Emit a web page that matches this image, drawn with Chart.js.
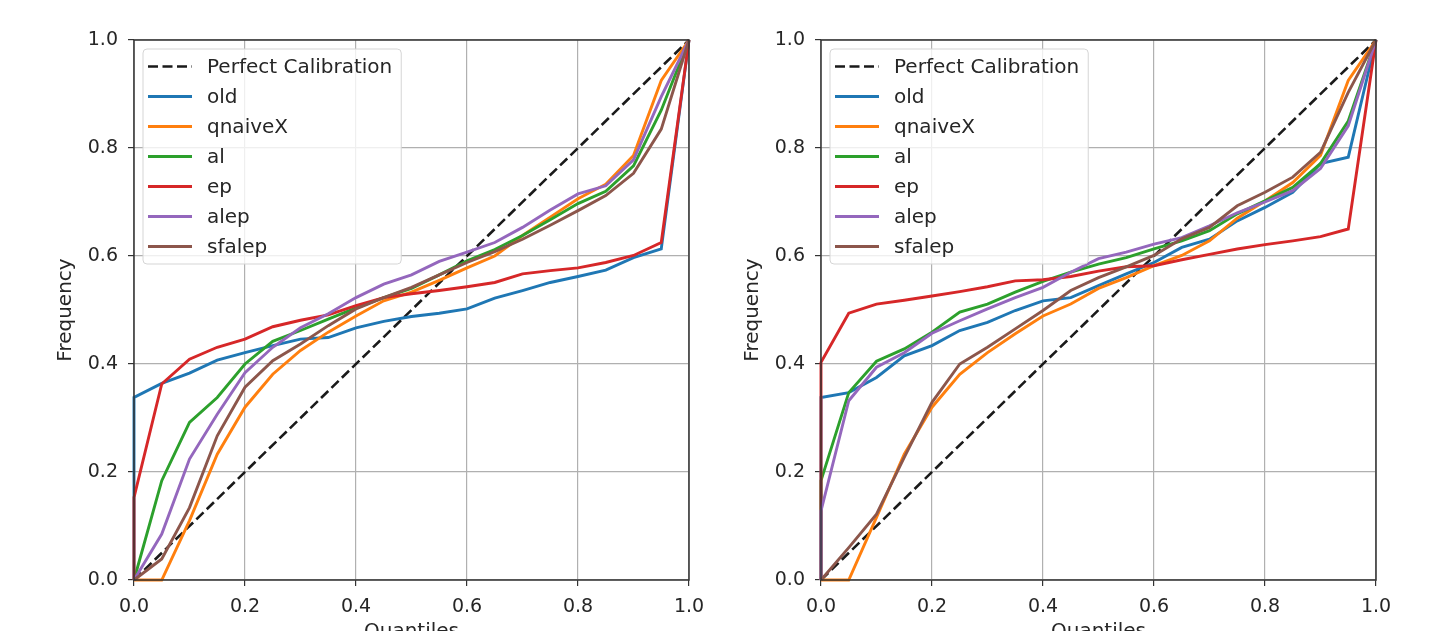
<!DOCTYPE html>
<html>
<head>
<meta charset="utf-8">
<script src="https://cdn.jsdelivr.net/npm/chart.js@4/dist/chart.umd.min.js"></script>
<style>
  body { margin: 0; background: #fff; overflow: hidden; }
  #wrap { position: relative; width: 1431px; height: 631px; overflow: hidden; }
  canvas { position: absolute; top: 0; }
  #left { left: 0; }
  #right { left: 687px; }
</style>
</head>
<body>
<div id="wrap">
  <canvas id="left" width="744" height="660"></canvas>
  <canvas id="right" width="744" height="660"></canvas>
</div>
<script>
// x positions of the quantiles (first point doubled at 0 for the jump)
const quantiles = [0, 0, 0.05, 0.1, 0.15, 0.2, 0.25, 0.3, 0.35, 0.4, 0.45, 0.5,
  0.55, 0.6, 0.65, 0.7, 0.75, 0.8, 0.85, 0.9, 0.95, 1];
const perfectX = [0, 1];
const perfectY = [0, 1];
const xTicks = [0, 0.2, 0.4, 0.6, 0.8, 1.0];
const yTicks = [0, 0.2, 0.4, 0.6, 0.8, 1.0];

const seriesNames = ["old", "qnaiveX", "al", "ep", "alep", "sfalep"];
const seriesColors = ["#1f77b4", "#ff7f0e", "#2ca02c", "#d62728", "#9467bd", "#8c564b"];

// left panel
const oldL    = [0, 0.338, 0.364, 0.383, 0.407, 0.421, 0.434, 0.446, 0.449, 0.467, 0.479, 0.488, 0.494, 0.502, 0.522, 0.536, 0.551, 0.562, 0.574, 0.597, 0.613, 1];
const qnaiveL = [0, 0, 0, 0.110, 0.233, 0.320, 0.381, 0.425, 0.459, 0.489, 0.517, 0.533, 0.555, 0.578, 0.600, 0.638, 0.672, 0.706, 0.733, 0.786, 0.925, 1];
const alL     = [0, 0, 0.184, 0.292, 0.338, 0.400, 0.442, 0.462, 0.483, 0.504, 0.523, 0.540, 0.565, 0.591, 0.612, 0.638, 0.667, 0.697, 0.720, 0.767, 0.870, 1];
const epL     = [0, 0.153, 0.363, 0.409, 0.431, 0.446, 0.469, 0.481, 0.491, 0.508, 0.523, 0.530, 0.536, 0.543, 0.551, 0.567, 0.573, 0.578, 0.588, 0.601, 0.625, 1];
const alepL   = [0, 0, 0.085, 0.224, 0.307, 0.384, 0.431, 0.467, 0.493, 0.523, 0.548, 0.565, 0.590, 0.607, 0.625, 0.653, 0.685, 0.715, 0.730, 0.778, 0.895, 1];
const sfalepL = [0, 0, 0.039, 0.134, 0.267, 0.357, 0.406, 0.437, 0.471, 0.502, 0.523, 0.542, 0.565, 0.588, 0.608, 0.631, 0.657, 0.684, 0.712, 0.753, 0.835, 1];

// right panel
const oldR    = [0, 0.338, 0.347, 0.375, 0.415, 0.434, 0.462, 0.477, 0.499, 0.517, 0.523, 0.545, 0.567, 0.588, 0.616, 0.631, 0.665, 0.690, 0.718, 0.771, 0.783, 1];
const qnaiveR = [0, 0, 0, 0.116, 0.233, 0.320, 0.381, 0.421, 0.456, 0.489, 0.511, 0.540, 0.560, 0.582, 0.601, 0.628, 0.670, 0.702, 0.736, 0.786, 0.925, 1];
const alR     = [0, 0.184, 0.347, 0.405, 0.428, 0.459, 0.496, 0.511, 0.533, 0.553, 0.570, 0.585, 0.597, 0.613, 0.628, 0.647, 0.678, 0.702, 0.727, 0.771, 0.850, 1];
const epR     = [0, 0.403, 0.494, 0.511, 0.518, 0.526, 0.534, 0.543, 0.554, 0.556, 0.562, 0.572, 0.580, 0.582, 0.593, 0.603, 0.613, 0.621, 0.628, 0.636, 0.650, 1];
const alepR   = [0, 0.128, 0.332, 0.394, 0.421, 0.457, 0.480, 0.502, 0.523, 0.542, 0.570, 0.595, 0.607, 0.622, 0.634, 0.656, 0.680, 0.700, 0.721, 0.762, 0.841, 1];
const sfalepR = [0, 0, 0.060, 0.122, 0.227, 0.329, 0.400, 0.431, 0.465, 0.499, 0.536, 0.560, 0.580, 0.601, 0.632, 0.653, 0.693, 0.718, 0.746, 0.792, 0.903, 1];

const FONT = "DejaVu Sans";
const TEXT = "#262626";
const FSIZE = 20;

function toPoints(xs, ys) {
  return xs.map((x, i) => ({ x: x, y: ys[i] }));
}

function buildDatasets(series) {
  const sets = [{
    label: "Perfect Calibration",
    data: toPoints(perfectX, perfectY),
    borderColor: "#1a1a1a",
    borderDash: [10, 4.5],
    borderWidth: 2.6,
    order: 10
  }];
  series.forEach((ys, i) => {
    sets.push({
      label: seriesNames[i],
      data: toPoints(quantiles, ys),
      borderColor: seriesColors[i],
      borderWidth: 2.9,
      order: 6 - i
    });
  });
  return sets;
}

// frame around the plot area + matplotlib style legend box
const framePlugin = {
  id: "frame",
  afterDatasetsDraw(chart) {
    const a = chart.chartArea, ctx = chart.ctx;
    ctx.save();
    ctx.strokeStyle = "#333";
    ctx.lineWidth = 1.5;
    ctx.strokeRect(a.left, a.top, a.right - a.left, a.bottom - a.top);
    ctx.restore();
  },
  afterDraw(chart) {
    const a = chart.chartArea, ctx = chart.ctx;
    const sets = chart.data.datasets;
    ctx.save();
    ctx.font = FSIZE + "px '" + FONT + "'";
    let maxW = 0;
    sets.forEach(d => { maxW = Math.max(maxW, ctx.measureText(d.label).width); });
    const bx = a.left + 9, by = a.top + 9;
    const bw = 64 + maxW + 9, bh = 215;
    ctx.beginPath();
    ctx.roundRect(bx, by, bw, bh, 4);
    ctx.fillStyle = "rgba(255,255,255,0.8)";
    ctx.fill();
    ctx.strokeStyle = "#d5d5d5";
    ctx.lineWidth = 1;
    ctx.stroke();
    sets.forEach((d, i) => {
      const y = by + 17.5 + i * 30;
      ctx.beginPath();
      ctx.setLineDash(d.borderDash || []);
      ctx.strokeStyle = d.borderColor;
      ctx.lineWidth = d.borderWidth;
      ctx.moveTo(bx + 5, y);
      ctx.lineTo(bx + 49, y);
      ctx.stroke();
      ctx.setLineDash([]);
      ctx.fillStyle = TEXT;
      ctx.textBaseline = "middle";
      ctx.fillText(d.label, bx + 64, y + 1);
    });
    ctx.restore();
  }
};

function axis(title, ticks, horizontal) {
  return {
    type: "linear",
    min: 0,
    max: 1,
    afterBuildTicks: s => { s.ticks = ticks.map(v => ({ value: v })); },
    afterFit: s => { if (horizontal) s.height = 64; else s.width = 134; },
    ticks: {
      color: TEXT,
      font: { family: FONT, size: FSIZE - 1 },
      padding: horizontal ? 10 : 10,
      callback: v => v.toFixed(1)
    },
    grid: { color: "#b0b0b0", lineWidth: 1.2, tickColor: "#333", tickLength: 6 },
    border: { display: false },
    title: {
      display: true,
      text: title,
      color: TEXT,
      font: { family: FONT, size: FSIZE },
      padding: horizontal ? { top: 0, bottom: 0 } : { top: 54, bottom: 0 }
    }
  };
}

function makeChart(id, series) {
  const ctx = document.getElementById(id).getContext("2d");
  return new Chart(ctx, {
    type: "line",
    data: { datasets: buildDatasets(series) },
    options: {
      responsive: false,
      animation: false,
      devicePixelRatio: 1,
      clip: false,
      layout: { padding: { top: 40, right: 55, bottom: 16, left: 0 } },
      elements: { point: { radius: 0 }, line: { tension: 0 } },
      plugins: { legend: { display: false }, tooltip: { enabled: false } },
      scales: {
        x: axis("Quantiles", xTicks, true),
        y: axis("Frequency", yTicks, false)
      }
    },
    plugins: [framePlugin]
  });
}

makeChart("left", [oldL, qnaiveL, alL, epL, alepL, sfalepL]);
makeChart("right", [oldR, qnaiveR, alR, epR, alepR, sfalepR]);
</script>
</body>
</html>
